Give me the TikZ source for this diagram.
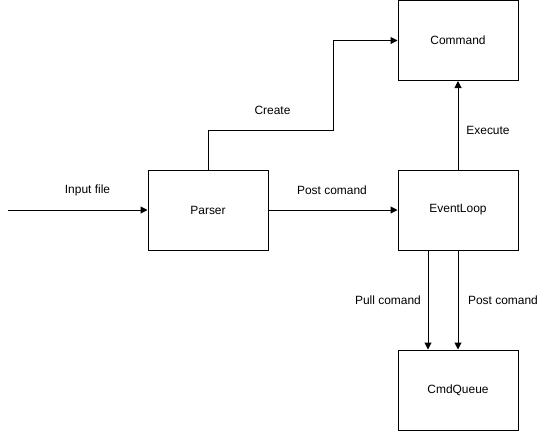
\documentclass[tikz,border=0pt]{standalone}
\usepackage{fontspec}
\setmainfont{Liberation Sans}
\usetikzlibrary{arrows.meta}

\tikzset{
  block/.style={draw, line width=1bp, minimum width=120bp, minimum height=80bp, inner sep=0pt},
  flow/.style={line width=1bp, -{Stealth[length=7bp, width=7bp, inset=0pt]}},
  lbl/.style={inner sep=0pt}
}

\begin{document}
\begin{tikzpicture}[x=1bp, y=-1bp, font=\fontsize{12}{14}\selectfont]
			\useasboundingbox (0,0) rectangle (548,431);

			% boxes
			\node[block] (command) at (458,40.5) {Command};
			\node[block] (parser) at (208,210) {Parser};
			\node[block] (evloop) at (458,210) {EventLoop};
			\node[block] (cmdqueue) at (458,390) {CmdQueue};

			% free ends and bends
			\coordinate (input) at (8,210);
			\coordinate (bend) at (333,130);

			% connectors
			\draw [flow] (input) -- (parser.west) ;
			\draw [flow] (parser.east) -- (evloop.west) ;
			\draw [flow] (parser.north) |- (bend) |- (command.west) ;
			\draw [flow] (evloop.north) -- (command.south) ;
			\draw [flow] ([xshift=-30bp]evloop.south) -- ([xshift=-30bp]cmdqueue.north) ;
			\draw [flow] (evloop.south) -- (cmdqueue.north) ;

			% edge labels
			\node[lbl] (linput) at (87.5,190) {Input file} ;
			\node[lbl] (lpost) at (332,190) {Post comand} ;
			\node[lbl] (lcreate) at (272.5,110) {Create} ;
			\node[lbl] (lexec) at (488,130) {Execute} ;
			\node[lbl] (lpull) at (388,300) {Pull comand} ;
			\node[lbl] (lpostq) at (503,300) {Post comand} ;

		\end{tikzpicture}
\end{document}
